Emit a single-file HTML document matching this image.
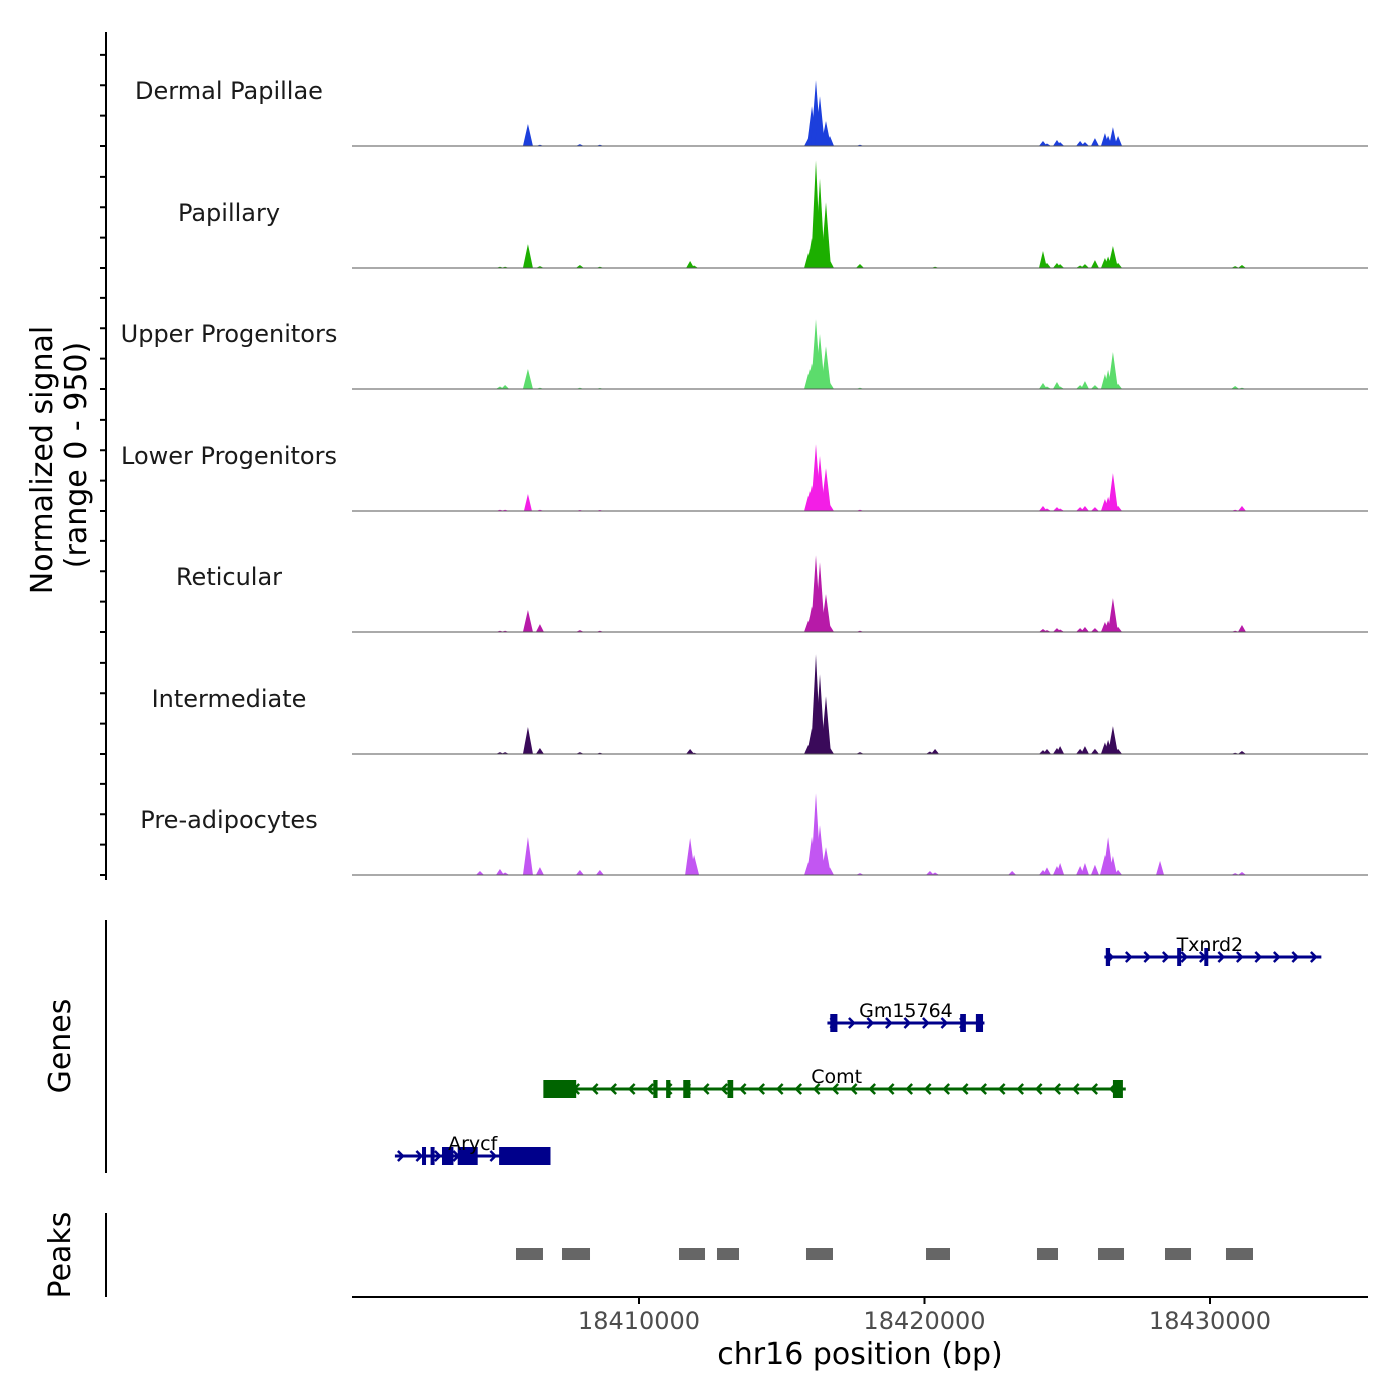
<!DOCTYPE html>
<html><head><meta charset="utf-8"><style>
html,body{margin:0;padding:0;background:#fff;}
svg{display:block;font-family:"DejaVu Sans","Liberation Sans",sans-serif;}
</style></head><body>
<svg id="chart" width="1400" height="1400" viewBox="0 0 1400 1400"></svg>
<script>
// ---- data ----
const trackNames = ["Dermal Papillae","Papillary","Upper Progenitors","Lower Progenitors","Reticular","Intermediate","Pre-adipocytes"];
const trackColors = ["#1c3fdc","#1caf00","#5cdc6c","#f31ee6","#b71aa8","#3a0a5a","#c256f2"];
const spikePositions = [18404430,18405130,18405310,18406110,18406530,18407930,18408630,18411790,18411930,18415920,18415990,18416060,18416200,18416340,18416550,18416690,18417740,18420190,18420370,18423070,18424150,18424290,18424640,18424750,18425450,18425620,18425970,18426320,18426430,18426600,18426780,18428250,18430880,18431120];
const sigDermalPapillae   = [0,0,0,172,10,15,10,0,0,60,120,312,515,390,195,78,10,0,0,0,39,20,47,30,39,30,62,101,80,148,78,0,0,0];
const sigPapillary        = [0,10,10,187,15,23,10,55,20,117,150,234,842,700,515,60,31,0,10,0,133,40,39,30,20,30,62,78,90,172,40,0,15,23];
const sigUpperProgenitors = [0,20,31,156,10,10,8,0,0,120,156,200,546,430,335,50,10,0,0,0,47,20,55,20,30,62,30,117,150,289,40,0,23,10];
const sigLowerProgenitors = [0,10,10,133,10,8,8,0,0,120,156,200,523,430,335,50,10,0,0,0,39,20,30,20,30,39,30,94,110,296,40,0,10,39];
const sigReticular        = [0,10,10,172,62,15,10,0,0,90,117,200,600,546,296,50,10,0,0,0,23,15,30,20,30,39,30,78,90,265,40,0,10,55];
const sigIntermediate     = [0,15,15,211,47,15,10,39,10,70,94,200,780,624,452,50,15,20,39,0,30,39,47,62,40,62,40,90,110,218,40,0,10,23];
const sigPreadipocytes    = [31,47,20,296,62,39,39,289,156,100,150,300,640,390,218,60,15,31,20,31,39,60,70,94,70,94,80,156,296,150,40,110,15,23];
const trackSignals = [sigDermalPapillae,sigPapillary,sigUpperProgenitors,sigLowerProgenitors,sigReticular,sigIntermediate,sigPreadipocytes];
const peakStarts = [18405692,18407303,18411401,18412732,18415849,18420053,18423940,18426077,18428424,18430560];
const peakEnds   = [18406637,18408284,18412312,18413503,18416795,18420893,18424676,18426988,18429335,18431506];
const xTickValues = [18410000,18420000,18430000];
const xTickLabels = ["18410000","18420000","18430000"];
const geneNames  = ["Txnrd2","Gm15764","Comt","Arycf"];
const geneStarts = [18426300,18416600,18406800,18401450];
const geneEnds   = [18433900,18422100,18427050,18406900];
const geneStrand = [1,1,-1,1];
const geneColors = ["#00008b","#00008b","#006400","#00008b"];
const geneExons = [
  [[18426350,18426500],[18428850,18428950],[18429800,18429880]],
  [[18416700,18416950],[18421250,18421450],[18421800,18422050]],
  [[18406650,18407800],[18410500,18410650],[18410950,18411100],[18411550,18411800],[18413100,18413300],[18426600,18426950]],
  [[18402400,18402500],[18402700,18402800],[18403100,18403500],[18403650,18404350],[18405100,18406900]]
];
const signalMax = 950;

// ---- scales ----
const X0=352, X1=1368;
function xs(bp){ return 639 + (bp-18410000)*0.02855; }
const baselines=[146,268,389,511,632,754,875];
const trackH=121.5;
function ys(v,i){ return baselines[i] - v/signalMax*trackH; }

const svg=document.getElementById('chart');
const NS="http://www.w3.org/2000/svg";
function mk(tag,attrs,parent){const e=document.createElementNS(NS,tag);for(const k in attrs)e.setAttribute(k,attrs[k]);(parent||svg).appendChild(e);return e;}

const ax=mk('line',{x1:106,y1:32,x2:106,y2:880,stroke:'#000','stroke-width':2});


for(let i=0;i<7;i++){
  for(let k=0;k<4;k++){
    const y=baselines[i]-k*trackH/4;
    const t=mk('line',{x1:100,y1:y,x2:106,y2:y,stroke:'#000','stroke-width':2});
    
    
  }
}
const yt=mk('text',{x:0,y:0,'font-size':30,'text-anchor':'middle',transform:'translate(52,460) rotate(-90)'});
yt.textContent='Normalized signal';


const yt2=mk('text',{x:0,y:0,'font-size':30,'text-anchor':'middle',transform:'translate(86,455) rotate(-90)'});
yt2.textContent='(range 0 - 950)';



for(let i=0;i<7;i++){
  const g=mk('g',{});
  
  
  const lab=mk('text',{x:229,y:baselines[i]-47,'font-size':24,'text-anchor':'middle',fill:'#1a1a1a'},g);
  lab.textContent=trackNames[i];
  
  
  const sig=trackSignals[i];
  for(let j=0;j<spikePositions.length;j++){
    if(!sig[j])continue;
    const cx=xs(spikePositions[j]);
    const hw = sig[j]>150?5:4;
    const p=mk('polygon',{points:`${cx-hw},${baselines[i]} ${cx},${ys(sig[j],i)} ${cx+hw},${baselines[i]}`,fill:trackColors[i]},g);
    
    
  }
  const bl=mk('line',{x1:X0,y1:baselines[i],x2:X1,y2:baselines[i],stroke:'#555','stroke-width':1},g);
  
  
}

const gax=mk('line',{x1:106,y1:920,x2:106,y2:1173,stroke:'#000','stroke-width':2});


const gt=mk('text',{x:0,y:0,'font-size':30,'text-anchor':'middle',transform:'translate(70,1046) rotate(-90)'});
gt.textContent='Genes';


const geneY=[957,1023,1089,1156];
for(let i=0;i<geneNames.length;i++){
  const g=mk('g',{});
  
  
  const y=geneY[i], c=geneColors[i];
  const x1=xs(geneStarts[i]), x2=xs(geneEnds[i]);
  mk('line',{x1:x1,y1:y,x2:x2,y2:y,stroke:c,'stroke-width':3},g);
  for(let x=x1+8;x<x2-4;x+=18.5){
    const d=geneStrand[i]*5;
    mk('polyline',{points:`${x-d},${y-5} ${x},${y} ${x-d},${y+5}`,fill:'none',stroke:c,'stroke-width':2.5},g);
  }
  for(const e of geneExons[i]){
    const a=xs(e[0]), b=xs(e[1]);
    const r=mk('rect',{x:a,y:y-9,width:Math.max(b-a,4),height:18,fill:c},g);
    
    
  }
  const t=mk('text',{x:(x1+x2)/2+ (i==0?-3:0),y:y-6,'font-size':19,'text-anchor':'middle',fill:'#000'},g);
  t.textContent=geneNames[i];
  
  
}

const pax=mk('line',{x1:106,y1:1213,x2:106,y2:1297,stroke:'#000','stroke-width':2});


const pt=mk('text',{x:0,y:0,'font-size':30,'text-anchor':'middle',transform:'translate(70,1255) rotate(-90)'});
pt.textContent='Peaks';


for(let i=0;i<peakStarts.length;i++){
  const a=xs(peakStarts[i]), b=xs(peakEnds[i]);
  const r=mk('rect',{x:a,y:1248,width:b-a,height:12,fill:'#666'});
  
  
}

const xa=mk('line',{x1:X0,y1:1297,x2:X1,y2:1297,stroke:'#000','stroke-width':2});


for(let i=0;i<xTickValues.length;i++){
  const x=xs(xTickValues[i]);
  const t=mk('line',{x1:x,y1:1297,x2:x,y2:1304,stroke:'#000','stroke-width':2});
  
  
  const l=mk('text',{x:x,y:1329,'font-size':24,'text-anchor':'middle',fill:'#4d4d4d'});
  l.textContent=xTickLabels[i];
  
  
}
const xt=mk('text',{x:860,y:1364,'font-size':30,'text-anchor':'middle',fill:'#000'});
xt.textContent='chr16 position (bp)';


</script>
</body></html>
